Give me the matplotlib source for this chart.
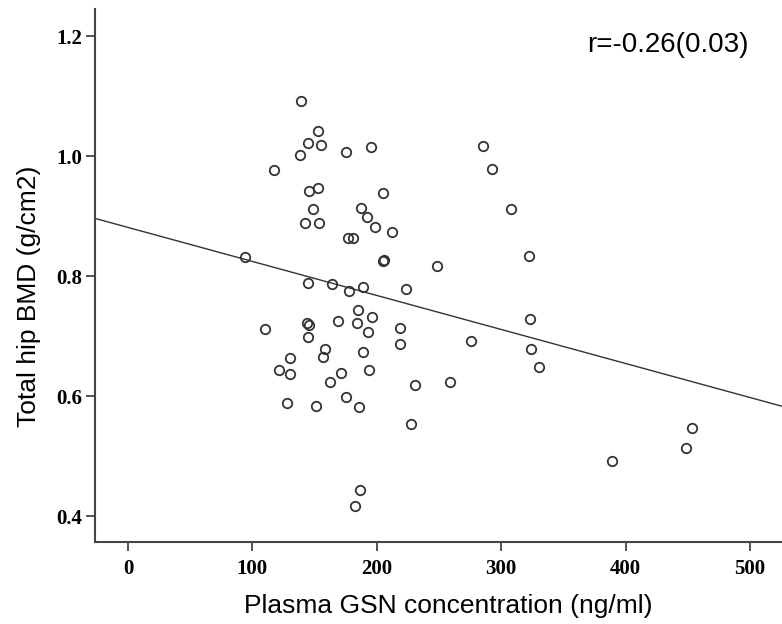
import matplotlib
matplotlib.use("Agg")
import matplotlib.pyplot as plt
import numpy as np

# Data
gsn = [139.1, 153.0, 144.4, 155.4, 138.3, 175.0, 195.6, 117.4, 285.6, 292.6,
       145.5, 152.5, 205.0, 148.7, 187.3, 192.1, 307.6, 142.0, 153.8, 198.6,
       212.5, 177.1, 181.1, 204.7, 205.8, 248.6, 322.1, 93.8, 144.9, 163.7,
       177.9, 188.7, 223.2, 184.6, 168.8, 183.8, 196.1, 143.6, 145.5, 110.4,
       193.2, 218.6, 323.2, 144.9, 218.9, 275.7, 324.0, 158.1, 156.5, 130.2,
       189.1, 330.6, 121.6, 130.5, 171.2, 162.4, 194.0, 230.7, 258.6, 127.6,
       150.9, 175.0, 185.4, 227.5, 186.3, 182.2, 389.1, 448.6, 453.6]
bmd = [1.092, 1.042, 1.021, 1.019, 1.001, 1.006, 1.015, 0.976, 1.016, 0.979,
       0.942, 0.946, 0.938, 0.912, 0.913, 0.899, 0.912, 0.889, 0.889, 0.882,
       0.873, 0.864, 0.863, 0.825, 0.826, 0.816, 0.834, 0.832, 0.789, 0.786,
       0.775, 0.781, 0.778, 0.743, 0.725, 0.721, 0.731, 0.722, 0.719, 0.712,
       0.707, 0.714, 0.729, 0.698, 0.687, 0.691, 0.679, 0.679, 0.665, 0.664,
       0.673, 0.648, 0.644, 0.637, 0.638, 0.624, 0.643, 0.619, 0.624, 0.589,
       0.583, 0.598, 0.582, 0.554, 0.444, 0.417, 0.492, 0.513, 0.546]
fit_intercept = 0.881
fit_slope = -0.000567
annotation = "r=-0.26(0.03)"
x_ticks = [0, 100, 200, 300, 400, 500]
y_ticks = [0.4, 0.6, 0.8, 1.0, 1.2]

fig = plt.figure(figsize=(7.82, 6.24), dpi=100)
ax = fig.add_axes([95/782, 1-542/624, 1-95/782, (542-9)/624])

xmin, xmax = -26.5, 525.7
ymin, ymax = 0.3567, 1.245
ax.set_xlim(xmin, xmax)
ax.set_ylim(ymin, ymax)

xs = np.array([xmin, xmax])
ax.plot(xs, fit_intercept + fit_slope * xs, color="#333333", lw=1.0, zorder=2)
ax.plot(gsn, bmd, linestyle="none", marker="o", markersize=6.8,
        markerfacecolor="none", markeredgecolor="#333333", markeredgewidth=1.3, zorder=3)

for s in ["top", "right"]:
    ax.spines[s].set_visible(False)
for s in ["left", "bottom"]:
    ax.spines[s].set_color("#444444")
    ax.spines[s].set_linewidth(1.5)

ax.set_xticks(x_ticks)
ax.set_yticks(y_ticks)
ax.set_xticklabels([str(v) for v in x_ticks])
ax.set_yticklabels([f"{v:.1f}" for v in y_ticks])
ax.tick_params(axis="both", direction="out", length=6.5, width=1.3, color="#444444",
               labelsize=15)
ax.tick_params(axis="y", pad=3)
ax.tick_params(axis="x", pad=6)
for lab in ax.get_xticklabels() + ax.get_yticklabels():
    lab.set_fontfamily("Liberation Serif")
    lab.set_fontweight("bold")

ax.set_xlabel("Plasma GSN concentration (ng/ml)", fontsize=19,
              fontfamily="Liberation Sans")
ax.set_ylabel("Total hip BMD (g/cm2)", fontsize=19,
              fontfamily="Liberation Sans")
ax.xaxis.set_label_coords((448-95)/687, (542-594)/533)
ax.yaxis.set_label_coords((41-95)/687, (542-296)/533)

ax.text(587/782, 1-45/624, annotation, transform=fig.transFigure,
        fontsize=20, fontfamily="Liberation Sans", ha="left", va="center")

fig.savefig("out.png", dpi=100)
